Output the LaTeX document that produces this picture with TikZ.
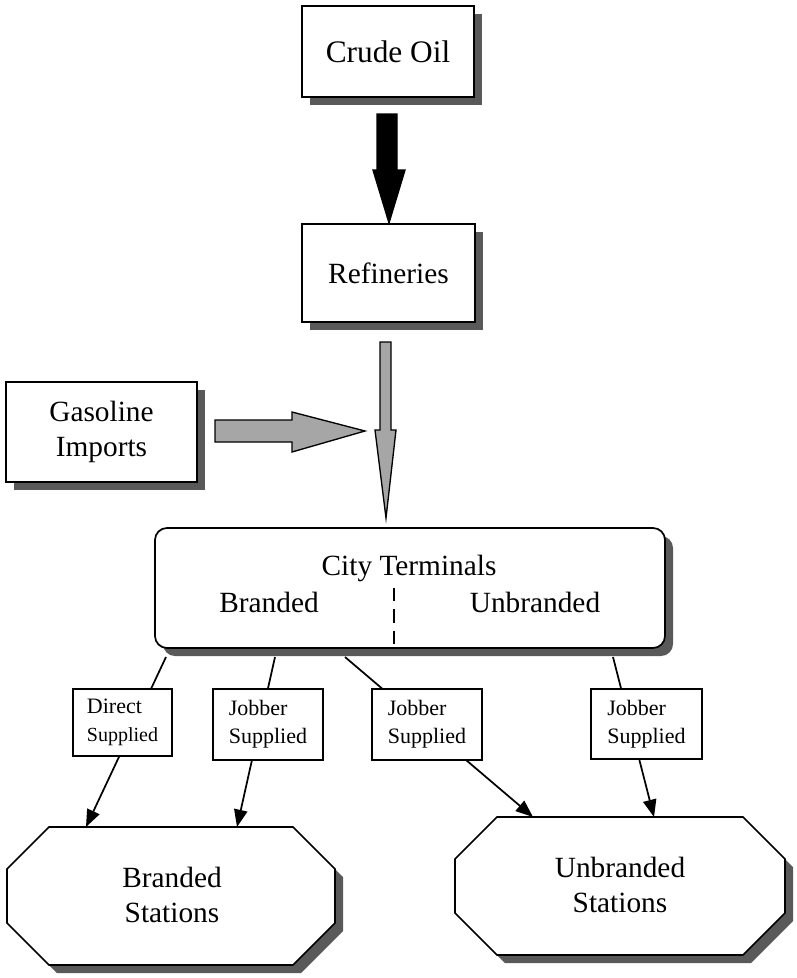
\documentclass[tikz,border=0pt]{standalone}
\usepackage{fontspec}
\setmainfont{Liberation Serif}
\usetikzlibrary{arrows.meta,calc,shadows}
\begin{document}
\begin{tikzpicture}[x=0.75pt,y=-0.75pt,
  shd/.style={drop shadow={shadow xshift=6pt,shadow yshift=-6pt,fill=black!65,opacity=1}},
  box/.style={draw,line width=1.3pt,fill=white,align=center,inner sep=0pt,shd},
  bigtext/.style={font=\fontsize{22}{26}\selectfont},
  lbl/.style={draw,line width=1.1pt,fill=white,align=left,inner sep=0pt,font=\fontsize{16.5}{21}\selectfont},
  conn/.style={line width=1.3pt,-{Triangle[length=13pt,width=10pt]}},
  octa/.style={draw,line width=1.3pt,fill=white,shd},
  fat/.style={draw,line width=1pt,fill=black!35}]
\useasboundingbox (0,0) rectangle (796,978);

% top boxes
\node[box,minimum width=129pt,minimum height=68.25pt,font=\fontsize{23.5}{28}\selectfont] (crude) at (388,51.5) {Crude Oil};
\node[box,bigtext,minimum width=129.75pt,minimum height=73.5pt] (refin) at (388.5,273) {Refineries};
\node[box,bigtext,minimum width=143.25pt,minimum height=75pt] (gas) at (101.5,432) {Gasoline\\Imports};

% big arrows
\filldraw[line width=1pt] (377,114) -- (397,114) -- (397,170) -- (405,170) -- (389,223) -- (373,170) -- (377,170) -- cycle;
\path[fat] (380,342) -- (391,342) -- (391,430) -- (396,430) -- (386,518) -- (375,430) -- (380,430) -- cycle;
\path[fat] (215,420) -- (292,420) -- (292,412) -- (365,431) -- (292,452) -- (292,442) -- (215,442) -- cycle;

% city terminals
\node[box,rounded corners=9pt,minimum width=382.5pt,minimum height=90pt] (city) at (410,588) {};
\node[bigtext,anchor=base] (cityt) at (409,575) {City Terminals};
\node[bigtext,anchor=base] (cityb) at (269,612) {Branded};
\node[bigtext,anchor=base] (cityu) at (535,612) {Unbranded};
\draw[line width=1pt,dash pattern=on 10pt off 6pt] (394,588) -- (394,648);

% stations
\path[octa] (49,827) -- (293,827) -- (335,869) -- (335,923) -- (293,965) -- (49,965) -- (7,923) -- (7,869) -- cycle;
\path[octa] (497,817) -- (743,817) -- (785,859) -- (785,913) -- (743,955) -- (497,955) -- (455,913) -- (455,859) -- cycle;
\node[bigtext,align=center] (bst) at (172,895) {Branded\\Stations};
\node[bigtext,align=center] (ust) at (620,885) {Unbranded\\Stations};

% connectors
\coordinate (t1) at (166,657);
\coordinate (t2) at (275,657);
\coordinate (t3) at (345,657);
\coordinate (t4) at (613,657);
\coordinate (b1) at (86,827);
\coordinate (b2) at (237,827);
\coordinate (u1) at (533,817);
\coordinate (u2) at (654,817);
\draw[conn] (t1) -- (b1);
\draw[conn] (t2) -- (b2);
\draw[conn] (t3) -- (u1);
\draw[conn] (t4) -- (u2);

% labels
\node[lbl,minimum width=74.25pt,minimum height=50.25pt] (direct) at (122.5,722.5) {Direct\\{\fontsize{15}{17}\selectfont Supplied}};
\node[lbl,minimum width=82.5pt,minimum height=53.25pt] (job1) at (268,724.5) {Jobber\\Supplied};
\node[lbl,minimum width=82.5pt,minimum height=53.25pt] (job2) at (427,724.5) {Jobber\\Supplied};
\node[lbl,minimum width=83.25pt,minimum height=52.5pt] (job3) at (646.5,724) {Jobber\\Supplied};
\end{tikzpicture}
\end{document}
